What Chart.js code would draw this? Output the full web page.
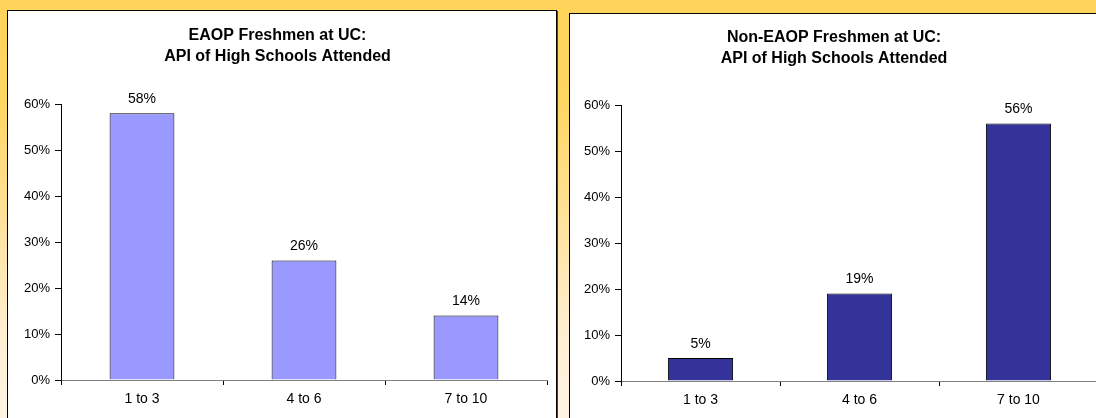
<!DOCTYPE html>
<html>
<head>
<meta charset="utf-8">
<script src="https://cdn.jsdelivr.net/npm/chart.js@4.4.0/dist/chart.umd.min.js"></script>
<style>
  html, body { margin:0; padding:0; }
  body {
    width:1096px; height:418px; overflow:hidden; position:relative;
    background: linear-gradient(to bottom, #FFD35A 0%, #FFD663 25%, #FFE3A0 55%, #FFEFD2 80%, #FFF4E4 100%);
  }
  .panel { position:absolute; background:#fff; border:1px solid #000; box-shadow:1px 1px 0 #444; }
  #p1 { left:7px; top:10px; width:548px; height:410px; }
  #p2 { left:569px; top:13px; width:538px; height:410px; }
  canvas { display:block; }
</style>
</head>
<body>
<div class="panel" id="p1"><canvas id="c1" width="548" height="410"></canvas></div>
<div class="panel" id="p2"><canvas id="c2" width="538" height="410"></canvas></div>
<script>
const categories = ["1 to 3", "4 to 6", "7 to 10"];
const eaopValues = [58, 26, 14];
const nonEaopValues = [5, 19, 56];
const yTicks = [0, 10, 20, 30, 40, 50, 60];
const title1 = ["EAOP Freshmen at UC:", "API of High Schools Attended"];
const title2 = ["Non-EAOP Freshmen at UC:", "API of High Schools Attended"];

const FAMILY = "'Liberation Sans', Arial, Helvetica, sans-serif";

const valueLabels = {
  id: 'valueLabels',
  afterDatasetsDraw(chart) {
    const ctx = chart.ctx;
    ctx.save();
    ctx.font = '14px ' + FAMILY;
    ctx.fillStyle = '#000';
    ctx.textAlign = 'center';
    ctx.textBaseline = 'middle';
    chart.data.datasets.forEach((ds, i) => {
      chart.getDatasetMeta(i).data.forEach((bar, j) => {
        ctx.fillText(ds.data[j] + '%', bar.x, bar.y - 14);
      });
    });
    ctx.restore();
  }
};

function makeChart(id, values, color, titleText, cfg) {
  return new Chart(document.getElementById(id), {
    type: 'bar',
    data: {
      labels: categories,
      datasets: [{
        data: values,
        backgroundColor: color,
        borderColor: '#000',
        borderWidth: 1,
        borderSkipped: 'bottom',
        barPercentage: cfg.barPct,
        categoryPercentage: 1
      }]
    },
    options: {
      responsive: false,
      animation: false,
      events: [],
      layout: { padding: { left: 0, right: cfg.padRight, top: 0, bottom: 0 } },
      plugins: {
        legend: { display: false },
        tooltip: { enabled: false },
        title: {
          display: true,
          text: titleText,
          color: '#000',
          font: { family: FAMILY, size: 16, weight: 'bold', lineHeight: 1.3125 },
          padding: { top: cfg.titleTop, bottom: cfg.titleBottom }
        }
      },
      scales: {
        x: {
          grid: { display: true, drawOnChartArea: false, offset: true, tickLength: 5, color: '#000' },
          border: { display: true, color: '#808080', width: 1 },
          ticks: { color: '#000', font: { family: FAMILY, size: 14 }, padding: 6 },
          afterFit(scale) { scale.height = cfg.xHeight; }
        },
        y: {
          min: 0, max: 60,
          afterBuildTicks(scale) { scale.ticks = yTicks.map(v => ({ value: v })); },
          grid: { display: true, drawOnChartArea: false, tickLength: 6, color: '#000' },
          border: { display: true, color: '#000', width: 1 },
          ticks: { color: '#000', font: { family: FAMILY, size: 13 }, padding: 5,
                   callback: v => v + '%' },
          afterFit(scale) { scale.width = cfg.yWidth; }
        }
      }
    },
    plugins: [valueLabels]
  });
}

makeChart('c1', eaopValues, '#9999FF', title1,
  { barPct: 0.4, padRight: 9, titleTop: 14, titleBottom: 37, xHeight: 41, yWidth: 53 });
makeChart('c2', nonEaopValues, '#333399', title2,
  { barPct: 0.41, padRight: 10, titleTop: 13.5, titleBottom: 35.5, xHeight: 43, yWidth: 51 });
</script>
</body>
</html>
